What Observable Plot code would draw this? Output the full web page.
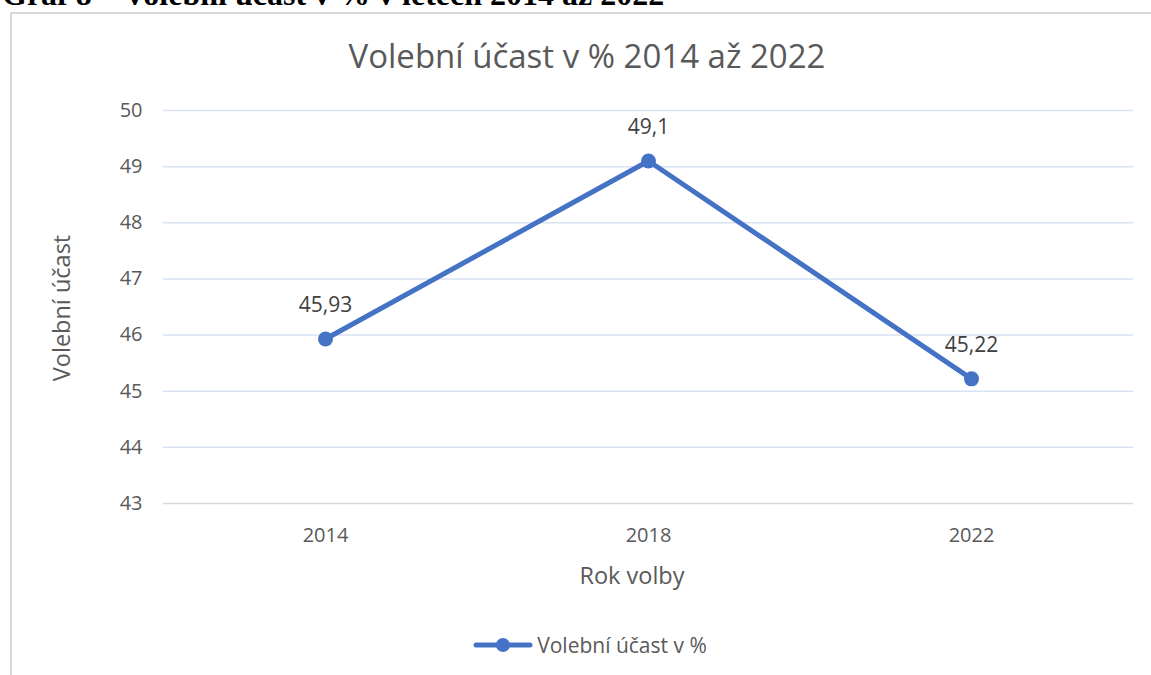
<!DOCTYPE html>
<html>
<head>
<meta charset="utf-8">
<script src="https://cdn.jsdelivr.net/npm/d3@7"></script>
<script src="https://cdn.jsdelivr.net/npm/@observablehq/plot@0.6"></script>
<style>
  html, body { margin: 0; padding: 0; background: #fff; }
  #wrap { position: relative; width: 1151px; height: 675px; overflow: hidden; background: #fff; font-family: "Open Sans", sans-serif; }
  #caption { position: absolute; left: 2px; top: -24px; font-family: "Liberation Serif", "Times New Roman", serif; font-weight: bold; font-size: 32px; color: #000; white-space: nowrap; line-height: 36px; }
  #frame { position: absolute; left: 10px; top: 12px; width: 1200px; height: 720px; border: 2px solid #d9d9d9; box-sizing: border-box; background: #fff; }
  #title { position: absolute; left: 0; width: 1174px; top: 35px; text-align: center; font-size: 33px; color: #595959; line-height: 42px; white-space: nowrap; }
  #plot { position: absolute; left: 0; top: 0; }
  .axt { position: absolute; font-size: 23.5px; color: #595959; white-space: nowrap; line-height: 30px; width: 300px; text-align: center; }
  #ytitle { left: -89px; top: 293px; transform: rotate(-90deg); }
  #xtitle { left: 482px; top: 560px; }
  #legend { position: absolute; left: 14px; width: 1151px; top: 631px; display: flex; justify-content: center; align-items: center; font-size: 21px; color: #595959; }
  #legend svg { margin-right: 3px; }
</style>
</head>
<body>
<div id="wrap">
  <div id="caption">Graf 8 – Volební účast v % v letech 2014 až 2022</div>
  <div id="frame"></div>
  <div id="title">Volební účast v % 2014 až 2022</div>
  <div id="plot"></div>
  <div class="axt" id="ytitle">Volební účast</div>
  <div class="axt" id="xtitle">Rok volby</div>
  <div id="legend"><svg width="62" height="18"><line x1="4" y1="9" x2="58" y2="9" stroke="#4472C4" stroke-width="5" stroke-linecap="round"/><circle cx="31" cy="9" r="7" fill="#4472C4"/></svg><span>Volební účast v %</span></div>
</div>
<script>
const years = ["2014", "2018", "2022"];
const turnout = [45.93, 49.1, 45.22];
const turnoutLabels = ["45,93", "49,1", "45,22"];
const yTicks = [43, 44, 45, 46, 47, 48, 49, 50];

const data = years.map((y, i) => ({year: y, value: turnout[i], label: turnoutLabels[i]}));
const blue = "#4472C4";

const chart = Plot.plot({
  width: 1151,
  height: 675,
  marginTop: 110,
  marginBottom: 172,
  marginLeft: 163,
  marginRight: 18,
  style: {fontFamily: "'Open Sans', sans-serif", fontSize: "21px", background: "transparent", color: "#595959"},
  x: {type: "point", domain: years, padding: 0.5, label: null},
  y: {domain: [43, 50], label: null},
  marks: [
    Plot.ruleY(yTicks.filter(t => t > 43), {stroke: "#d9e2f3", strokeWidth: 1.5}),
    Plot.ruleY([43], {stroke: "#d9d9d9", strokeWidth: 1.5}),
    Plot.axisY({ticks: yTicks, tickFormat: d => String(d), tickSize: 0, tickPadding: 21, fontSize: 20, fill: "#595959", label: null}),
    Plot.axisX({tickSize: 0, tickPadding: 24, fontSize: 20, fill: "#595959", label: null}),
    Plot.line(data, {x: "year", y: "value", stroke: blue, strokeWidth: 5, strokeLinecap: "round", strokeLinejoin: "round"}),
    Plot.dot(data, {x: "year", y: "value", r: 7.5, fill: blue}),
    Plot.text(data, {x: "year", y: "value", text: "label", dy: -34, fontSize: 21, fill: "#404040"})
  ]
});
document.getElementById("plot").appendChild(chart);
</script>
</body>
</html>
